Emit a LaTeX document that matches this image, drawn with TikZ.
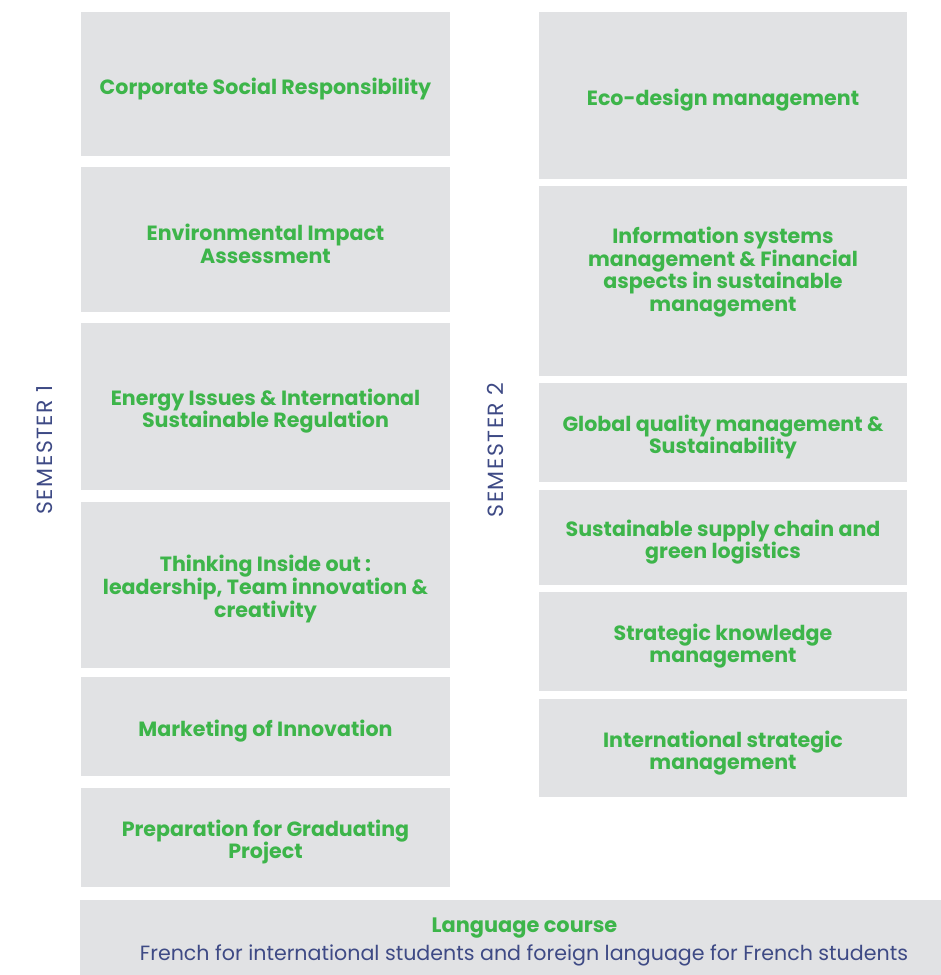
\documentclass[tikz,border=0pt]{standalone}
\usepackage{fontspec}
\setmainfont{Poppins}
\newfontfamily\semfont{Poppins}[LetterSpace=7]
\definecolor{boxgray}{HTML}{E1E2E4}
\definecolor{tgreen}{HTML}{3DB54A}
\definecolor{tblue}{HTML}{3E4A85}
\begin{document}
\begin{tikzpicture}[x=1pt,y=-1pt,
  course/.style={fill=boxgray,draw=none},
  lbl/.style={text=tgreen,font=\fontsize{20.6}{22.7}\selectfont\bfseries,align=center,inner sep=0pt},
  sem/.style={text=tblue,font=\semfont\fontsize{22}{24}\selectfont,rotate=90,inner sep=0pt}]
\useasboundingbox (0,0) rectangle (941,975);
% semester 1
\path[course] (81,12) rectangle (450,156);
\node[lbl] (c1) at (265.5,89) {Corporate Social Responsibility};
\path[course] (81,167) rectangle (450,312);
\node[lbl] (c2) at (265.5,244) {Environmental Impact\\Assessment};
\path[course] (81,323) rectangle (450,490);
\node[lbl] (c3) at (265.5,411) {Energy Issues \& International\\Sustainable Regulation};
\path[course] (81,502) rectangle (450,668);
\node[lbl] (c4) at (265.5,589) {Thinking Inside out :\\leadership, Team innovation \&\\creativity};
\path[course] (81,677) rectangle (450,776);
\node[lbl] (c5) at (265.5,731) {Marketing of Innovation};
\path[course] (81,788) rectangle (450,887);
\node[lbl] (c6) at (265.5,842) {Preparation for Graduating\\Project};
% semester 2
\path[course] (539,12) rectangle (907,179);
\node[lbl] (d1) at (723,100) {Eco-design management};
\path[course] (539,186) rectangle (907,376);
\node[lbl] (d2) at (723,272) {Information systems\\management \& Financial\\aspects in sustainable\\management};
\path[course] (539,383) rectangle (907,482);
\node[lbl] (d3) at (723,437) {Global quality management \&\\Sustainability};
\path[course] (539,490) rectangle (907,585);
\node[lbl] (d4) at (723,542) {Sustainable supply chain and\\green logistics};
\path[course] (539,592) rectangle (907,691);
\node[lbl] (d5) at (723,646) {Strategic knowledge\\management};
\path[course] (539,699) rectangle (907,797);
\node[lbl] (d6) at (723,753) {International strategic\\management};
% semester labels
\node[sem] (s1) at (45,450) {SEMESTER 1};
\node[sem] (s2) at (495,450) {SEMESTER 2};
% language
\path[course] (80,900) rectangle (941,975);
\node[text=tgreen,font=\fontsize{20.9}{22}\selectfont\bfseries,inner sep=0pt] (lang) at (524.5,928) {Language course};
\node[text=tblue,font=\fontsize{20.6}{22}\selectfont,inner sep=0pt] (langd) at (524,955) {French for international students and foreign language for French students};
\end{tikzpicture}
\end{document}
